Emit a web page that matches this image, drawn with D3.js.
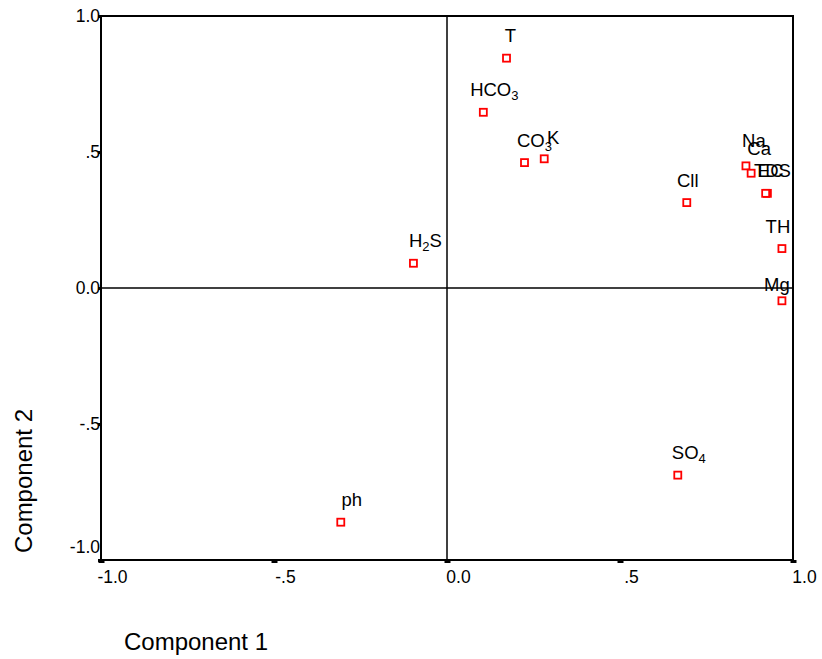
<!DOCTYPE html>
<html>
<head>
<meta charset="utf-8">
<script src="https://cdn.jsdelivr.net/npm/d3@7"></script>
<style>
  body { margin: 0; background: #fff; }
  text { font-family: "Liberation Sans", Arial, sans-serif; fill: #000; }
</style>
</head>
<body>
<script>
// component loadings
var names = ["T", "HCO3", "CO3", "K", "Cll", "Na", "Ca", "TDS", "EC", "TH", "Mg", "H2S", "SO4", "ph"];
var comp1 = [0.172, 0.105, 0.224, 0.281, 0.693, 0.864, 0.879, 0.926, 0.921, 0.968, 0.968, -0.097, 0.667, -0.307];
var comp2 = [0.845, 0.646, 0.461, 0.475, 0.314, 0.449, 0.422, 0.348, 0.348, 0.145, -0.047, 0.091, -0.688, -0.861];

var xTicks = [-1, -0.5, 0, 0.5, 1];
var yTicks = [-1, -0.5, 0, 0.5, 1];
var tickLabels = ["-1.0", "-.5", "0.0", ".5", "1.0"];

// label nudges (SPSS keeps labels inside the frame)
var nudge = {
  T: [4, -16], HCO3: [11, -16], CO3: [10, -16], K: [9, -15], Cll: [1, -16],
  Na: [8, -19], Ca: [8, -18], TDS: [5, -16], EC: [5, -16], TH: [-4, -16],
  Mg: [-5, -10], H2S: [12, -16], SO4: [11, -16], ph: [11, -16]
};

var W = 822, H = 659;
var margin = {top: 16, right: 29, bottom: 99, left: 101};

var svg = d3.select("body").append("svg")
    .attr("width", W)
    .attr("height", H);

var x = d3.scaleLinear().domain([-1, 1]).range([margin.left, W - margin.right]);
var y = d3.scaleLinear().domain([-1, 1]).range([H - margin.bottom, margin.top]);

var data = names.map(function(n, i) { return {name: n, c1: comp1[i], c2: comp2[i]}; });

// zero reference lines
svg.append("line")
    .attr("x1", x(0)).attr("x2", x(0))
    .attr("y1", y(1)).attr("y2", y(-1))
    .attr("stroke", "#000").attr("stroke-width", 1.5);
svg.append("line")
    .attr("x1", x(-1)).attr("x2", x(1))
    .attr("y1", y(0)).attr("y2", y(0))
    .attr("stroke", "#000").attr("stroke-width", 1.5);

// frame
svg.append("rect")
    .attr("x", x(-1)).attr("y", y(1))
    .attr("width", x(1) - x(-1)).attr("height", y(-1) - y(1))
    .attr("fill", "none").attr("stroke", "#000").attr("stroke-width", 2);

var xAxis = d3.axisBottom(x)
    .tickValues(xTicks)
    .tickSize(3)
    .tickPadding(8)
    .tickFormat(function(d, i) { return tickLabels[i]; });

var yAxis = d3.axisLeft(y)
    .tickValues(yTicks)
    .tickSize(3)
    .tickPadding(-2)
    .tickFormat(function(d, i) { return tickLabels[i]; });

var gx = svg.append("g")
    .attr("transform", "translate(0," + y(-1) + ")")
    .call(xAxis);
gx.select(".domain").remove();
gx.selectAll(".tick line").attr("stroke", "#000").attr("stroke-width", 6);
gx.selectAll(".tick text")
    .attr("dx", 11)
    .attr("fill", "#000")
    .style("font-size", "17.5px")
    .style("font-family", "Liberation Sans, Arial, sans-serif");

var gy = svg.append("g")
    .attr("transform", "translate(" + x(-1) + ",0)")
    .call(yAxis);
gy.select(".domain").remove();
gy.selectAll(".tick line").attr("stroke", "#000").attr("stroke-width", 3);
gy.selectAll(".tick text")
    .attr("fill", "#000")
    .style("font-size", "17.5px")
    .style("font-family", "Liberation Sans, Arial, sans-serif")
    .attr("dy", function(d) { return d === -1 ? "-0.45em" : "0.32em"; });

// points
svg.selectAll(".pt")
    .data(data)
  .enter().append("rect")
    .attr("class", "pt")
    .attr("x", function(d) { return x(d.c1) - 3.5; })
    .attr("y", function(d) { return y(d.c2) - 3.5; })
    .attr("width", 7)
    .attr("height", 7)
    .attr("fill", "#fff")
    .attr("stroke", "#f00")
    .attr("stroke-width", 1.8);

// labels with digit subscripts
var lab = svg.selectAll(".lab")
    .data(data)
  .enter().append("text")
    .attr("class", "lab")
    .attr("x", function(d) { return x(d.c1) + nudge[d.name][0]; })
    .attr("y", function(d) { return y(d.c2) + nudge[d.name][1]; })
    .attr("text-anchor", "middle")
    .style("font-size", "18.5px");

lab.each(function(d) {
  var t = d3.select(this);
  var parts = d.name.match(/\d+|\D+/g);
  var low = false;
  parts.forEach(function(p) {
    var isSub = /\d/.test(p);
    var dy = 0;
    if (isSub && !low) { dy = 4; low = true; }
    else if (!isSub && low) { dy = -4; low = false; }
    t.append("tspan")
      .attr("dy", dy)
      .style("font-size", isSub ? "13px" : "18.5px")
      .text(p);
  });
});

// axis titles
svg.append("text")
    .attr("x", 196)
    .attr("y", 650)
    .attr("text-anchor", "middle")
    .style("font-size", "24px")
    .text("Component 1");

svg.append("text")
    .attr("transform", "translate(32,481) rotate(-90)")
    .attr("text-anchor", "middle")
    .style("font-size", "24px")
    .text("Component 2");
</script>
</body>
</html>
